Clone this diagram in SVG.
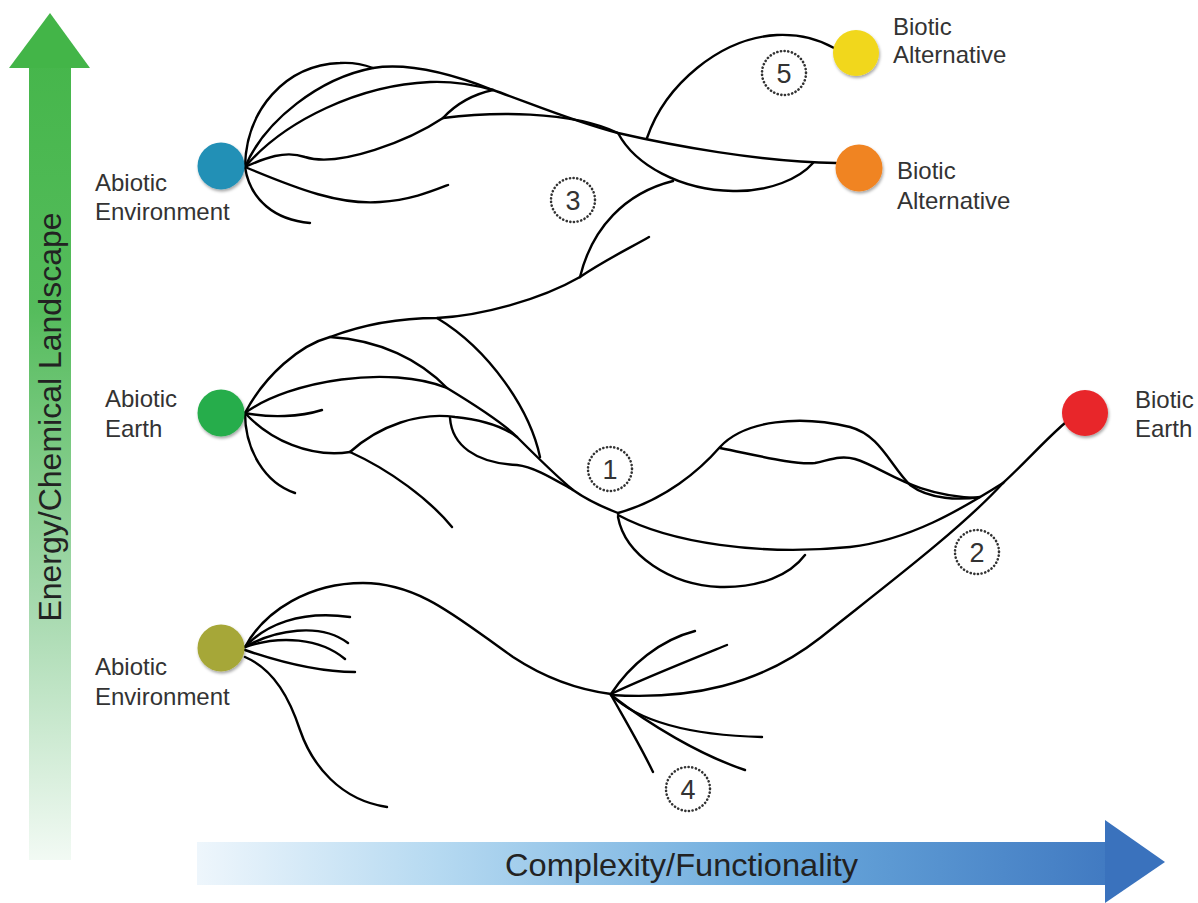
<svg xmlns="http://www.w3.org/2000/svg" width="1198" height="903" viewBox="0 0 1198 903">
<defs>
<linearGradient id="gGreen" x1="0" y1="13" x2="0" y2="860" gradientUnits="userSpaceOnUse">
<stop offset="0" stop-color="#43b548"/>
<stop offset="0.35" stop-color="#55bc5c"/>
<stop offset="0.7" stop-color="#a6d9ae"/>
<stop offset="1" stop-color="#f2faf4"/>
</linearGradient>
<linearGradient id="gBlue" x1="197" y1="0" x2="1165" y2="0" gradientUnits="userSpaceOnUse">
<stop offset="0" stop-color="#eef6fc"/>
<stop offset="0.25" stop-color="#b5d9f1"/>
<stop offset="0.6" stop-color="#6aa9dc"/>
<stop offset="1" stop-color="#3a72bd"/>
</linearGradient>
<filter id="shadow" x="-30%" y="-30%" width="160%" height="170%">
<feDropShadow dx="1" dy="2" stdDeviation="1.5" flood-color="#000" flood-opacity="0.35"/>
</filter>
</defs>
<style>
.lbl{font-family:"Liberation Sans",Arial,sans-serif;font-size:24px;fill:#333}
.num{font-family:"Liberation Sans",Arial,sans-serif;font-size:27px;fill:#333;text-anchor:middle}
.dot{fill:#fff;stroke:#333;stroke-width:2.6;stroke-dasharray:0.1 3.6;stroke-linecap:round}
.br{fill:none;stroke:#000;stroke-width:2.4;stroke-linecap:round;stroke-linejoin:round}
.axis{font-family:"Liberation Sans",Arial,sans-serif;font-size:32px;fill:#222}
</style>
<rect width="1198" height="903" fill="#fff"/>

<g id="axis-energy">
<rect x="29" y="66" width="42" height="794" fill="url(#gGreen)"/>
<polygon points="50,13 90,68 9,68" fill="#43b548"/>
<text class="axis" transform="translate(61,417) rotate(-90)" text-anchor="middle">Energy/Chemical Landscape</text>
</g>
<g id="axis-complexity">
<rect x="197" y="842" width="910" height="43" fill="url(#gBlue)"/>
<polygon points="1105,820 1165,862 1105,903" fill="#3a72bd"/>
<text class="axis" x="505" y="876" textLength="353" lengthAdjust="spacingAndGlyphs">Complexity/Functionality</text>
</g>

<g id="connectors">
<path class="br" d="M245,167 C246,110 285,65 340,63 C355,62 365,65 373,68"/>
<path class="br" d="M245,167 C265,120 320,78 373,68 C410,62 455,75 493,90 C530,103 575,122 618,133 C670,145 760,162 836,163"/>
<path class="br" d="M245,167 C285,120 360,85 430,82 C455,81 475,85 493,90"/>
<path class="br" d="M245,167 C265,158 285,150 305,157 C340,168 410,140 443,118"/>
<path class="br" d="M443,118 C455,105 470,95 493,90"/>
<path class="br" d="M443,118 C490,112 570,110 618,133"/>
<path class="br" d="M245,167 C300,190 340,205 380,202 C410,200 430,192 448,185"/>
<path class="br" d="M245,167 C250,200 275,220 310,223"/>
<path class="br" d="M618,133 C635,165 680,190 733,191 C770,192 800,178 813,163"/>
<path class="br" d="M647,138 C665,85 720,38 777,35 C800,34 820,40 834,48"/>
<path class="br" d="M673,181 C625,193 592,228 580,277"/>
<path class="br" d="M580,277 C605,260 630,248 649,237"/>
<path class="br" d="M245,413 C265,375 300,345 330,337 C370,322 410,318 437,318 C480,316 540,300 580,277"/>
<path class="br" d="M437,318 C490,350 530,410 540,457"/>
<path class="br" d="M330,337 C380,340 420,360 447,388"/>
<path class="br" d="M245,413 C290,380 390,365 447,388"/>
<path class="br" d="M447,388 C475,405 505,425 517,437 C535,455 555,475 573,490 C590,502 605,508 618,513"/>
<path class="br" d="M245,413 C270,440 310,458 350,452"/>
<path class="br" d="M350,452 C380,425 420,412 455,417 C485,420 505,428 517,437"/>
<path class="br" d="M350,452 C390,470 430,500 452,527"/>
<path class="br" d="M245,413 C270,418 300,417 322,410"/>
<path class="br" d="M245,413 C245,450 265,483 295,493"/>
<path class="br" d="M450,418 C452,445 475,463 517,465 C535,467 555,480 573,490"/>
<path class="br" d="M618,513 C665,500 700,470 720,447 C745,420 800,415 850,427 C880,435 890,465 910,485 C930,500 960,500 980,497"/>
<path class="br" d="M720,448 C760,456 795,465 815,463 C830,460 840,455 855,459 C885,468 910,495 977,498"/>
<path class="br" d="M618,515 C670,543 760,556 850,547 C910,540 960,510 1003,483"/>
<path class="br" d="M618,517 C625,555 670,585 720,587 C760,588 790,575 805,555"/>
<path class="br" d="M1003,483 C1025,463 1045,440 1065,423"/>
<path class="br" d="M245,647 C265,610 310,583 363,583 C420,583 460,620 513,657 C545,678 580,690 611,694"/>
<path class="br" d="M245,647 C265,625 300,610 350,617"/>
<path class="br" d="M245,647 C275,630 320,622 348,643"/>
<path class="br" d="M245,647 C280,635 320,638 345,659"/>
<path class="br" d="M245,650 C280,662 320,672 355,672"/>
<path class="br" d="M245,657 C275,670 290,700 300,730 C312,765 340,800 387,807"/>
<path class="br" d="M611,694 C630,665 660,640 695,631"/>
<path class="br" d="M611,694 C640,680 690,660 727,645"/>
<path class="br" d="M611,695 C690,700 760,685 820,638 C880,590 960,530 1003,483"/>
<path class="br" d="M611,695 C635,718 680,735 762,737"/>
<path class="br" d="M611,695 C650,725 700,755 745,770"/>
<path class="br" d="M611,695 C625,720 640,745 653,772"/>
</g>

<g id="node-abiotic-env-top">
<circle cx="221" cy="166" r="23.5" fill="#2390b6" filter="url(#shadow)"/>
<text class="lbl" x="95" y="191">Abiotic</text>
<text class="lbl" x="95" y="220">Environment</text>
</g>
<g id="node-abiotic-earth">
<circle cx="221" cy="413" r="23.5" fill="#27ad4b" filter="url(#shadow)"/>
<text class="lbl" x="105" y="407">Abiotic</text>
<text class="lbl" x="105" y="437">Earth</text>
</g>
<g id="node-abiotic-env-bottom">
<circle cx="221" cy="648" r="23.5" fill="#a6a737" filter="url(#shadow)"/>
<text class="lbl" x="95" y="675">Abiotic</text>
<text class="lbl" x="95" y="705">Environment</text>
</g>
<g id="node-biotic-alt-yellow">
<circle cx="856" cy="53" r="23" fill="#f1d71b" filter="url(#shadow)"/>
<text class="lbl" x="893" y="35">Biotic</text>
<text class="lbl" x="893" y="63">Alternative</text>
</g>
<g id="node-biotic-alt-orange">
<circle cx="859" cy="168" r="23.5" fill="#f08424" filter="url(#shadow)"/>
<text class="lbl" x="897" y="179">Biotic</text>
<text class="lbl" x="897" y="209">Alternative</text>
</g>
<g id="node-biotic-earth">
<circle cx="1085" cy="413" r="23" fill="#e8262a" filter="url(#shadow)"/>
<text class="lbl" x="1135" y="408">Biotic</text>
<text class="lbl" x="1135" y="437">Earth</text>
</g>

<g id="marker-1"><circle class="dot" cx="610" cy="469" r="22"/><text class="num" x="610" y="479">1</text></g>
<g id="marker-2"><circle class="dot" cx="977" cy="552" r="22"/><text class="num" x="977" y="562">2</text></g>
<g id="marker-3"><circle class="dot" cx="573" cy="200" r="22"/><text class="num" x="573" y="210">3</text></g>
<g id="marker-4"><circle class="dot" cx="688" cy="789" r="22"/><text class="num" x="688" y="799">4</text></g>
<g id="marker-5"><circle class="dot" cx="784" cy="73" r="22"/><text class="num" x="784" y="83">5</text></g>
</svg>
